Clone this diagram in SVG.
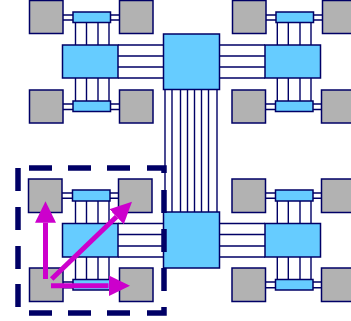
<svg xmlns="http://www.w3.org/2000/svg" width="351" height="321" viewBox="0 0 351 321">
<style>
.g{fill:#b2b2b2;stroke:#000066;stroke-width:1.5}
.b{fill:#66ccff;stroke:#000066;stroke-width:1.5}
.c{fill:none;stroke:#000066;stroke-width:1.4}
.d{fill:none;stroke:#000066;stroke-width:5.5}
.a{fill:none;stroke:#cc00cc;stroke-width:5}
</style>
<defs>
<marker id="ah" markerUnits="userSpaceOnUse" markerWidth="24" markerHeight="24" refX="0" refY="10.500" orient="auto"><path d="M0 0L21.500 10.500L0 21Z" fill="#cc00cc"/></marker>
</defs>
<rect width="351" height="321" fill="#fff"/>
<g id="connectors">
<path class="c" d="M63 15H73M63 20H73M110.500 15H119.500M110.500 20H119.500M75.500 22.500V45M86.500 22.500V45M98 22.500V45M109 22.500V45M75.500 78V101M86.500 78V101M98 78V101M109 78V101M63 104H73M63 109.500H73M110.500 104H119.500M110.500 109.500H119.500M118 45H163.500M118 56H163.500M118 67H163.500M118 78H163.500"/>
<path class="c" d="M266 15H276M266 20H276M313.500 15H322.500M313.500 20H322.500M277.300 22.500V45M288.300 22.500V45M300 22.500V45M311 22.500V45M277.300 78V101M288.300 78V101M300 78V101M311 78V101M265.500 104H275.500M265.500 109.500H275.500M313 104H321.500M313 109.500H321.500M219.500 45H265M219.500 56H265M219.500 67H265M219.500 78H265"/>
<path class="c" d="M62 193H72.500M62 198.300H72.500M110 193H118.500M110 198.300H118.500M75.500 201V223.500M86.500 201V223.500M98 201V223.500M109 201V223.500M75.500 257V279.500M86.500 257V279.500M98 257V279.500M109 257V279.500M63 282H73M63 287.700H73M110 282H119.500M110 287.700H119.500M118 223.500H163.500M118 234.500H163.500M118 246H163.500M118 257H163.500"/>
<path class="c" d="M265.500 193H275.500M265.500 198.300H275.500M313 193H321.500M313 198.300H321.500M277.300 201V223.500M288.300 201V223.500M300 201V223.500M311 201V223.500M277.300 257V279.500M288.300 257V279.500M300 257V279.500M311 257V279.500M265.500 282H275.500M265.500 287.700H275.500M313 282H321.500M313 287.700H321.500M219.500 223.500H265M219.500 234.500H265M219.500 246H265M219.500 257H265"/>
<path class="c" d="M165 89.500V212M172 89.500V212M180.500 89.500V212M187.500 89.500V212M194.500 89.500V212M201.500 89.500V212M208.500 89.500V212M217 89.500V212"/>
</g>
<g id="tl-a"><rect class="g" x="29.500" y="0.500" width="33.500" height="33"/></g>
<g id="tl-b"><rect class="g" x="119.500" y="0.500" width="33.500" height="33"/></g>
<g id="tl-c"><rect class="g" x="29.500" y="90" width="33.500" height="33"/></g>
<g id="tl-d"><rect class="g" x="119.500" y="90" width="33.500" height="33"/></g>
<g id="tl-s1"><rect class="b" x="73" y="12" width="37.500" height="10.500"/></g>
<g id="tl-s2"><rect class="b" x="73" y="101" width="37.500" height="10.500"/></g>
<g id="tl-m"><rect class="b" x="62.500" y="45" width="55.500" height="33"/></g>
<g id="top-hub"><rect class="b" x="163.500" y="34" width="56" height="55.500"/></g>
<g id="tr-a"><rect class="g" x="232.500" y="0.500" width="33.500" height="33"/></g>
<g id="tr-b"><rect class="g" x="322.500" y="0.500" width="33.500" height="33"/></g>
<g id="tr-c"><rect class="g" x="232" y="90" width="33.500" height="33"/></g>
<g id="tr-d"><rect class="g" x="321.500" y="90" width="33.500" height="33"/></g>
<g id="tr-s1"><rect class="b" x="276" y="12" width="37.500" height="10.500"/></g>
<g id="tr-s2"><rect class="b" x="275.500" y="101" width="37.500" height="10.500"/></g>
<g id="tr-m"><rect class="b" x="265" y="45" width="55.500" height="33"/></g>
<g id="bl-a"><rect class="g" x="28.500" y="179" width="33.500" height="33.500"/></g>
<g id="bl-b"><rect class="g" x="118.500" y="179" width="33.500" height="33.500"/></g>
<g id="bl-c"><rect class="g" x="29.500" y="268" width="33.500" height="33.500"/></g>
<g id="bl-d"><rect class="g" x="119.500" y="268" width="33.500" height="33.500"/></g>
<g id="bl-s1"><rect class="b" x="72.500" y="190" width="37.500" height="11"/></g>
<g id="bl-s2"><rect class="b" x="73" y="279.500" width="37" height="10.500"/></g>
<g id="bl-m"><rect class="b" x="62.500" y="223.500" width="55.500" height="33.500"/></g>
<g id="bottom-hub"><rect class="b" x="163.500" y="212" width="56" height="56"/></g>
<g id="br-a"><rect class="g" x="232" y="179" width="33.500" height="33.500"/></g>
<g id="br-b"><rect class="g" x="321.500" y="179" width="33.500" height="33.500"/></g>
<g id="br-c"><rect class="g" x="232" y="268" width="33.500" height="33.500"/></g>
<g id="br-d"><rect class="g" x="321.500" y="268" width="33.500" height="33.500"/></g>
<g id="br-s1"><rect class="b" x="275.500" y="190" width="37.500" height="11"/></g>
<g id="br-s2"><rect class="b" x="275.500" y="279.500" width="37.500" height="10.500"/></g>
<g id="br-m"><rect class="b" x="265" y="223.500" width="55.500" height="33.500"/></g>
<path class="d" d="M29 168H52M68 168H91M107 168H130M147 168H164V173M164 190V213M164 229V252M164 268V291M164 307V313H147M130 313H107M91 313H68M52 313H29M18 307V284M18 269V246M18 230V207M18 191V168"/>
<g id="arrows">
<line class="a" x1="45.500" y1="279" x2="45.500" y2="222.700" marker-end="url(#ah)"/>
<line class="a" x1="51.700" y1="279" x2="116.500" y2="216.700" marker-end="url(#ah)"/>
<line class="a" x1="51" y1="285.700" x2="108.500" y2="285.700" marker-end="url(#ah)"/>
</g>
</svg>
